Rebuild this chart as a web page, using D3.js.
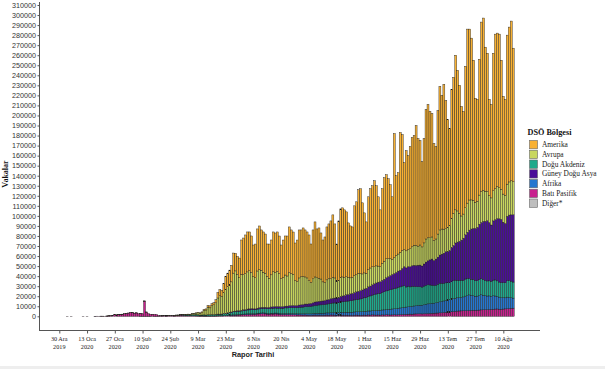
<!DOCTYPE html>
<html><head><meta charset="utf-8">
<script src="https://cdn.jsdelivr.net/npm/d3@7"></script>
<style>body{margin:0;background:#fff}svg{display:block}</style>
</head><body>
<svg id="chart" width="605" height="369"></svg>
<script>
// ---------------- DATA ----------------
const firstReportDate = "2019-12-30"; // index 0 of every series; null = no report that day
const N = null;
const regionNames = ["Amerika","Avrupa","Doğu Akdeniz","Güney Doğu Asya","Afrika","Batı Pasifik","Diğer*"];
const regionColors = ["#F8B133","#C8D65E","#1FA98B","#4A0D98","#2476CF","#C8208E","#BEBEBE"];

const batiPasifik = [
 N,N,N,N,44,N,15,N,N,N,N,N,41,N,1,N,N,N,
 17,136,19,151,140,97,259, 441,665,787,1753,1466,1740,1980, 2102,2590,2829,3235,3887,3694,3143,
 3385,2652,2984,2473,15141,4156,2538, 2007,2052,1890,1750,907,447,676, 620,418,508,
 650,660,700,950,900,1200,1150,
 800,700,700,600,550,600,450,
 400,300,350,250,250,300,250,
 300,250,300,350,400,400,450,
 550,700,800,900,1000,1100,1200,
 1300,1400,1600,1700,1800,2000,1900,
 2100,2000,2300,2400,2500,2600,2400,
 2200,2100,2300,2200,2400,2300,2100,
 1900,1800,1900,1700,1800,1700,1600,
 1500,1300,1400,1300,1200,1300,1100,
 1000,900,1100,1200,1000,1100,1000,
 1000,1100,1200,1100,1300,1200,1100,
 1000,1100,1200,1100,1000,1100,1000,
 1000,900,1100,1200,1100,1000,1100,
 1200,1100,1300,1200,1400,1300,1200,
 1300,1200,1400,1300,1500,1400,1300,
 1400,1500,1400,1600,1700,1800,1900,
 2000,2100,2200,2100,2300,2400,2500,
 2500,2400,2600,2700,2800,2900,3000,
 3100,3200,3300,3500,3600,3800,4000,
 4200,4400,4600,4800,5000,5200,5300,
 5400,5500,5600,5700,5800,5900,6000,
 6000,6100,6200,6400,6500,6600,6700,
 6800,6900,7000,7200,7300,7100,7000,
 7200,7400,7600,7800,8000,8100
];

const amerika = [
 N,N,N,N,0,N,0,N,N,N,N,N,0,N,0,N,N,N,
 0,0,0,0,1,0,1, 1,3,0,1,0,0,1, 3,0,1,0,0,1,0,
 0,0,0,0,1,1,0, 0,0,0,0,0,0,1, 0,1,2,
 0,0,5,10,5,10,15,
 20,30,40,50,70,100,150,
 300,350,650,800,1100,1700,2000,
 1700,2000,3000,5500,6000,6000,9000,
 13000,13500,15000,16500,20000,17500,18000,
 19500,34100,36500,38400,39800,38600,36400,
 31600,33600,41900,43400,40100,40100,39000,
 32300,34100,34700,39500,39300,39300,37300,
 33500,37300,38900,39800,45500,43400,42200,
 37400,41300,47800,46500,48300,46800,45800,
 45400,38200,48500,54800,48600,50100,45900,
 41700,45300,52700,54300,57500,62100,53800,
 36800,59100,68300,68800,67300,64600,54300,
 51700,50200,69400,72700,83100,84500,70800,
 59800,51100,72700,78900,80700,85700,79800,
 69000,56600,74200,83100,83700,79600,73500,
 62400,123500,79400,81000,119200,115400,86600,
 99800,93500,101700,108600,109200,119400,107100,
 104000,84900,103900,129000,132600,125800,123000,
 96400,92000,123100,143000,133100,144200,127700,
 107300,96400,128400,135400,154000,140100,127300,
 109100,102200,140900,173300,170200,161100,139500,
 103500,101400,135300,168600,171500,143400,137800,
 95700,93100,137000,153800,152700,152900,128500,
 97300,95600,148400,154200,159000,132900
];

const avrupa = [
 N,N,N,N,0,N,0,N,N,N,N,N,0,N,0,N,N,N,
 0,0,0,0,0,0,0, 3,0,0,1,4,2,3, 2,1,3,0,2,5,3,
 2,0,5,2,4,1,0, 0,2,0,0,0,5,20, 40,60,100,
 100,60,100,170,250,240,300,
 450,500,600,650,1000,1300,1400,
 2000,1900,2500,4500,5000,7400,6800,
 9000,9800,11500,16000,18500,17500,21000,
 24000,26000,27000,30000,38000,40000,36000,
 33000,36000,35000,36000,37000,38000,36000,
 32000,31000,37000,38000,37000,35000,34000,
 31000,29000,32000,35000,34000,35000,33000,
 28000,29000,31000,30000,33000,32000,31000,
 25000,24000,27000,28000,28000,27000,26000,
 23000,21000,24000,25000,24000,23000,22000,
 19000,18000,20000,21000,20000,21000,20000,
 17000,17000,19000,19000,18000,18000,17000,
 16000,16000,17000,17000,18000,17000,16000,
 16000,15000,17000,18000,18000,17000,17000,
 16000,15000,17000,18000,19000,18000,17000,
 15000,16000,17000,17000,18000,18000,17000,
 17000,17000,18000,19000,20000,20000,19000,
 20000,19000,21000,23000,23000,22000,22000,
 20000,20000,23000,25000,25000,24000,23000,
 24000,25000,29000,32000,33000,31000,28000,
 24000,24000,27000,29000,30000,29000,28000,
 26000,26000,29000,31000,31000,30000,29000,
 27000,27000,30000,31000,32000,31000,30000,
 28000,28000,32000,33000,34000,33000
];

const doguAkdeniz = [
 N,N,N,N,0,N,0,N,N,N,N,N,0,N,0,N,N,N,
 0,0,0,0,0,0,0, 0,0,0,0,0,4,0, 0,0,0,0,0,1,0,
 0,0,0,0,0,0,0, 0,0,0,0,0,2,3, 20,30,40,
 40,60,50,110,140,150,250,
 500,550,800,600,1100,1000,1400,
 1100,900,900,1100,1000,1300,1300,
 1400,1300,1500,1700,1500,1600,1900,
 1900,2200,2500,2600,3000,3200,3300,
 3300,3400,3600,3500,3800,3700,3900,
 3800,3900,4100,4200,4300,4400,4500,
 4600,4700,4800,4900,5000,4900,5100,
 5200,5300,5500,5600,5700,5800,5900,
 6000,6100,6300,6500,6700,6900,7000,
 7200,7300,7500,7800,8000,8200,8300,
 8500,8600,8800,9000,9300,9500,9700,
 9800,10000,10300,10500,10800,11000,11200,
 11500,11800,12000,12200,12500,12800,13000,
 13500,14000,14500,15000,15500,16000,16500,
 16800,17000,17500,18000,18500,19000,19500,
 19800,20000,20500,21000,21000,21500,21500,
 20000,20500,19500,20000,19500,19000,18500,
 18500,18000,18500,19000,19000,18500,18000,
 17500,17500,18000,18500,18000,17500,17500,
 17500,17000,17500,18000,18000,17500,17000,
 17000,16500,17000,17000,16500,16000,16000,
 15500,15500,16000,16000,15500,15000,15000,
 15000,15000,15500,16000,15500,15000,15000,
 15000,15000,16500,17000,16500,16000
];

const guneyDoguAsya = [
 N,N,N,N,0,N,0,N,N,N,N,N,0,N,0,N,N,N,
 1,0,0,1,0,0,1, 3,0,2,6,0,1,2, 1,0,0,6,0,0,0,
 1,0,1,0,1,0,0, 0,0,0,0,0,0,0, 0,0,0,
 0,0,0,0,0,0,0,
 0,3,20,2,1,3,8,
 10,10,20,25,30,50,40,
 50,60,70,90,100,150,200,
 250,300,350,400,500,500,600,
 500,600,700,800,900,1000,1100,
 900,800,1000,1200,1300,1100,1200,
 1200,1300,1400,1500,1400,1600,1500,
 1500,1600,1700,1800,1900,2000,2100,
 2000,2100,2300,2400,2500,2600,2700,
 2900,3000,3200,3400,3500,3600,3700,
 3800,3900,4100,4300,4500,4700,4900,
 5000,5200,5500,5800,6000,6300,6500,
 6800,7000,7300,7600,7900,8200,8500,
 8800,9000,9500,9800,10200,10600,11000,
 11300,11500,12000,12500,13000,13500,14000,
 14500,15000,15500,16000,16500,17500,19000,
 19000,19500,20000,20500,21000,21000,21500,
 21500,21000,22000,23000,24000,25000,26000,
 25000,26000,27000,28000,29000,30000,31000,
 31000,32000,34000,35000,37000,38000,39000,
 40000,42000,44000,46000,48000,50000,51000,
 52000,53000,55000,56000,58000,59000,60000,
 58000,56000,59000,60000,62000,63000,63000,
 60000,59000,64000,65000,66000,67000
];

const afrika = [
 N,N,N,N,0,N,0,N,N,N,N,N,0,N,0,N,N,N,
 0,0,0,0,0,0,0, 0,0,0,0,0,0,0, 0,0,0,0,0,0,0,
 0,0,0,0,0,0,0, 0,0,0,0,0,0,0, 0,0,0,
 0,0,0,0,1,0,0,
 0,1,2,0,5,3,5,
 5,10,10,15,20,30,40,
 50,60,80,100,150,150,200,
 250,300,350,400,500,400,500,
 400,500,550,600,700,700,700,
 600,650,700,750,800,800,850,
 700,750,800,900,850,900,950,
 900,950,1000,1050,1100,1100,1150,
 1100,1150,1200,1300,1300,1400,1400,
 1500,1600,1700,1800,1900,2000,2100,
 2000,2100,2200,2300,2400,2500,2500,
 2400,2600,2700,2800,2900,3000,3000,
 3000,3100,3200,3300,3400,3500,3600,
 3700,3800,4000,4100,4200,4400,4500,
 4600,4700,4900,5100,5300,5500,5700,
 5900,6000,6200,6400,6600,6800,7000,
 7200,7400,7600,7800,8000,8200,8400,
 8500,8700,9000,9300,9600,9800,10000,
 10000,10300,10600,11000,11300,11500,11800,
 12000,12200,12500,12800,13000,13200,13400,
 13500,13800,14500,15000,15500,15000,14500,
 14000,14000,14500,15000,14500,14000,13500,
 13500,13000,13500,13000,12500,12000,11500,
 11500,11000,11500,11000,10500,10000
];

const diger = [
 N,N,N,N,0,N,0,N,N,N,N,N,0,N,0,N,N,N,
 0,0,0,0,0,0,0, 0,0,0,0,0,0,0, 0,0,0,0,0,0,0,
 0,0,61,3,39,67,70, 99,0,88,79,13,0,57, 0,14,0,
 0,0,14,0,0,0,0,
 0,0,0,0,0,0,0, 0,0,0,0,0,0,0, 0,0,0,0,0,0,0,
 0,0,0,0,0,0,0, 0,0,0,0,0,0,0, 0,0,0,0,0,0,0,
 0,0,0,0,0,0,0, 0,0,0,0,0,0,0, 0,0,0,0,0,0,0,
 0,0,0,0,0,0,0, 0,0,0,0,0,0,0, 0,0,0,0,0,0,0,
 0,0,0,0,0,0,0, 0,0,0,0,0,0,0, 0,0,0,0,0,0,0,
 0,0,0,0,0,0,0, 0,0,0,0,0,0,0, 0,0,0,0,0,0,0,
 0,0,0,0,0,0,0, 0,0,0,0,0,0,0, 0,0,0,0,0,0,0,
 0,0,0,0,0,0,0, 0,0,0,0,0,0,0, 0,0,0,0,0,0,0,
 0,0,0,0,0,0
];

const tickDates = ["2019-12-30","2020-01-13","2020-01-27","2020-02-10","2020-02-24","2020-03-09",
 "2020-03-23","2020-04-06","2020-04-20","2020-05-04","2020-05-18","2020-06-01","2020-06-15",
 "2020-06-29","2020-07-13","2020-07-27","2020-08-10"];
const tickLabels = [["30 Ara","2019"],["13 Oca","2020"],["27 Oca","2020"],["10 Şub","2020"],
 ["24 Şub","2020"],["9 Mar","2020"],["23 Mar","2020"],["6 Nis","2020"],["20 Nis","2020"],
 ["4 May","2020"],["18 May","2020"],["1 Haz","2020"],["15 Haz","2020"],["29 Haz","2020"],
 ["13 Tem","2020"],["27 Tem","2020"],["10 Ağu","2020"]];
const yTickValues = [0,10000,20000,30000,40000,50000,60000,70000,80000,90000,100000,110000,120000,
 130000,140000,150000,160000,170000,180000,190000,200000,210000,220000,230000,240000,250000,
 260000,270000,280000,290000,300000,310000];

// ---------------- CHART ----------------
const svg = d3.select("#chart");
const parse = d3.timeParse("%Y-%m-%d");
const day0 = parse(firstReportDate);
const DAY = 864e5;

const seriesByName = {
  "Amerika": amerika, "Avrupa": avrupa, "Doğu Akdeniz": doguAkdeniz,
  "Güney Doğu Asya": guneyDoguAsya, "Afrika": afrika, "Batı Pasifik": batiPasifik, "Diğer*": diger
};
const rows = [];
amerika.forEach((v, i) => {
  if (v === null) return;
  const r = { date: d3.timeDay.offset(day0, i) };
  regionNames.forEach(n => r[n] = seriesByName[n][i] || 0);
  rows.push(r);
});
const color = d3.scaleOrdinal(regionNames, regionColors);
const stackKeys = ["Diğer*","Batı Pasifik","Afrika","Doğu Akdeniz","Güney Doğu Asya","Avrupa","Amerika"];
const stacked = d3.stack().keys(stackKeys)(rows);

const x = d3.scaleTime()
  .domain([new Date(day0.getTime() - 10.24 * DAY), new Date(day0.getTime() + 242.5 * DAY)])
  .range([39, 540]);
const y = d3.scaleLinear().domain([0, 310000]).range([316.3, 5]);
const bw = (x(d3.timeDay.offset(day0, 1)) - x(day0)) * 0.98;

// bars
svg.append("g").selectAll("g").data(stacked).join("g")
  .attr("fill", s => color(s.key))
  .selectAll("rect")
  .data(s => s.filter(d => d[1] - d[0] > 0))
  .join("rect")
  .attr("x", d => x(d.data.date) - bw / 2)
  .attr("width", bw)
  .attr("y", d => y(d[1]))
  .attr("height", d => Math.max(0.05, y(d[0]) - y(d[1])))
  .attr("stroke", "#1a1a1a")
  .attr("stroke-width", 0.4);

const txtFill = "#333333";
// y axis
const yAxis = svg.append("g").attr("transform", "translate(39.5,0)")
  .call(d3.axisLeft(y).tickValues(yTickValues).tickSize(2).tickPadding(1.5).tickFormat(d3.format("d")));
yAxis.select(".domain").remove();
yAxis.selectAll(".tick line").attr("stroke", "#555");
yAxis.selectAll(".tick text").attr("font-family", "Liberation Sans, Arial, sans-serif")
  .attr("font-size", 7.2).style("fill", txtFill);
svg.append("line").attr("x1", 39.5).attr("x2", 39.5).attr("y1", 2).attr("y2", 330.5)
  .attr("stroke", "#555").attr("stroke-width", 1);

// x axis
const xAxis = svg.append("g").attr("transform", "translate(0,330.5)")
  .call(d3.axisBottom(x).tickValues(tickDates.map(parse)).tickSize(3).tickFormat(""));
xAxis.select(".domain").remove();
xAxis.selectAll(".tick line").attr("stroke", "#555");
svg.append("line").attr("x1", 39).attr("x2", 540).attr("y1", 330.5).attr("y2", 330.5)
  .attr("stroke", "#555").attr("stroke-width", 1);
const xl = svg.append("g").attr("font-family", "Liberation Serif, Times New Roman, serif")
  .attr("font-size", 6.2).style("fill", "#222").attr("text-anchor", "middle");
tickDates.forEach((t, i) => {
  const tx = xl.append("text").attr("x", x(parse(t)));
  tx.append("tspan").attr("x", x(parse(t))).attr("y", 340.5).text(tickLabels[i][0]);
  tx.append("tspan").attr("x", x(parse(t))).attr("y", 348.5).text(tickLabels[i][1]);
});

// axis titles
svg.append("text").attr("x", 253).attr("y", 357).attr("text-anchor", "middle")
  .attr("font-family", "Liberation Sans, Arial, sans-serif").attr("font-weight", "bold")
  .attr("font-size", 7.3).style("fill", "#222").text("Rapor Tarihi");
svg.append("text").attr("transform", "translate(8,174) rotate(-90)").attr("text-anchor", "middle")
  .attr("font-family", "Liberation Serif, Times New Roman, serif").attr("font-weight", "bold")
  .attr("font-size", 8).style("fill", "#111").text("Vakalar");

// legend
const lg = svg.append("g");
lg.append("text").attr("x", 527.5).attr("y", 135).attr("font-family", "Liberation Serif, Times New Roman, serif")
  .attr("font-weight", "bold").attr("font-size", 8.2).style("fill", "#111").text("DSÖ Bölgesi");
regionNames.forEach((n, i) => {
  const yy = 140.5 + i * 9.75;
  lg.append("rect").attr("x", 529.5).attr("y", yy).attr("width", 8).attr("height", 8.3)
    .attr("fill", color(n)).attr("stroke", "#666").attr("stroke-width", 0.6);
  lg.append("text").attr("x", 542).attr("y", yy + 6.6)
    .attr("font-family", "Liberation Serif, Times New Roman, serif").attr("font-size", 7.4)
    .style("fill", "#222").text(n);
});

// bottom frame strip
svg.append("rect").attr("x", 0).attr("y", 366).attr("width", 605).attr("height", 3).attr("fill", "#eeeeee");
</script>
</body></html>
